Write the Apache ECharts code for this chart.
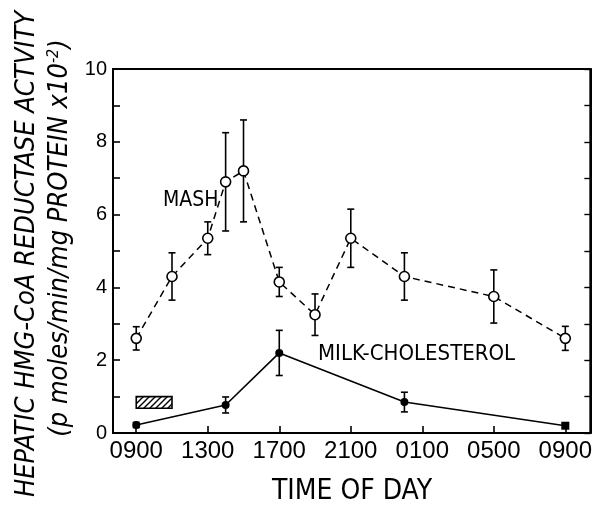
<!DOCTYPE html>
<html>
<head>
    <meta charset="utf-8">
    <title>HMG-CoA reductase</title>
    <script src="https://cdn.jsdelivr.net/npm/echarts@6/dist/echarts.min.js"></script>
    <style>
        html, body { margin: 0; padding: 0; background: #fff; }
    </style>
</head>
<body>
<div id="root" style="width: 595px; height: 505px;"></div>
<script type="text/javascript">
// hours after 0900
var tickHours = [0, 4, 8, 12, 16, 20, 24];
var tickLabels = ['0900', '1300', '1700', '2100', '0100', '0500', '0900'];

var mashHours = [0, 2, 4, 5, 6, 8, 10, 12, 15, 20, 24];
var mashMean = [2.6, 4.3, 5.35, 6.9, 7.2, 4.15, 3.25, 5.35, 4.3, 3.75, 2.6];
var mashErr = [0.32, 0.65, 0.45, 1.35, 1.4, 0.4, 0.57, 0.8, 0.65, 0.73, 0.33];

var milkHours = [0, 5, 8, 15, 24];
var milkMean = [0.22, 0.77, 2.2, 0.85, 0.2];
var milkErr = [0.07, 0.22, 0.62, 0.27, 0.06];

// hatched feeding bar: [startHour, endHour, low, high]
var feedBar = [0, 2, 0.68, 1.0];

var narrow = "'Liberation Sans Narrow', 'DejaVu Sans Condensed', 'Liberation Sans', sans-serif";
var plain = "'Liberation Sans', Arial, sans-serif";

var myChart = echarts.init(document.getElementById('root'));

function pairs(xs, ys) {
    return xs.map(function (x, i) { return [x, ys[i]]; });
}
function errData(xs, ys, es) {
    return xs.map(function (x, i) { return [x, ys[i] - es[i], ys[i] + es[i]]; });
}

function renderErr(params, api) {
    var lo = api.coord([api.value(0), api.value(1)]);
    var hi = api.coord([api.value(0), api.value(2)]);
    var w = 3.5;
    var st = { stroke: '#000', lineWidth: 1.6 };
    return {
        type: 'group',
        children: [
            { type: 'line', shape: { x1: lo[0], y1: lo[1], x2: hi[0], y2: hi[1] }, style: st },
            { type: 'line', shape: { x1: hi[0] - w, y1: hi[1], x2: hi[0] + w, y2: hi[1] }, style: st },
            { type: 'line', shape: { x1: lo[0] - w, y1: lo[1], x2: lo[0] + w, y2: lo[1] }, style: st }
        ]
    };
}

// diagonal hatch
var hatch = document.createElement('canvas');
hatch.width = 6;
hatch.height = 6;
var hc = hatch.getContext('2d');
hc.strokeStyle = '#000';
hc.lineWidth = 1.4;
hc.beginPath();
hc.moveTo(0, 6); hc.lineTo(6, 0);
hc.moveTo(-3, 3); hc.lineTo(3, -3);
hc.moveTo(3, 9); hc.lineTo(9, 3);
hc.stroke();

var milkPoints = pairs(milkHours, milkMean).map(function (p, i) {
    return { value: p, symbol: i === milkHours.length - 1 ? 'rect' : 'circle' };
});

option = {
    animation: false,
    grid: {
        left: 113, right: 2, top: 69, bottom: 72,
        show: true, borderColor: '#000', borderWidth: 2
    },
    xAxis: {
        type: 'value',
        min: -1.3,
        max: 25.4,
        splitLine: { show: false },
        axisLine: { onZero: false, lineStyle: { color: '#000', width: 2 } },
        axisTick: { inside: true, length: 7, lineStyle: { color: '#000', width: 1.6 }, customValues: tickHours },
        axisLabel: {
            customValues: tickHours,
            color: '#000', fontSize: 24, fontFamily: plain, margin: 6,
            formatter: function (v) { return tickLabels[tickHours.indexOf(v)]; }
        }
    },
    yAxis: [{
        type: 'value',
        min: 0, max: 10, interval: 1,
        splitLine: { show: false },
        axisLine: { show: true, onZero: false, lineStyle: { color: '#000', width: 2 } },
        axisTick: { inside: true, length: 7, lineStyle: { color: '#000', width: 1.6 } },
        axisLabel: {
            customValues: [0, 2, 4, 6, 8, 10],
            color: '#000', fontSize: 20, fontFamily: plain, margin: 6
        }
    }, {
        type: 'value',
        position: 'right',
        min: 0, max: 10, interval: 1,
        splitLine: { show: false },
        axisLine: { show: true, onZero: false, lineStyle: { color: '#000', width: 2 } },
        axisTick: { inside: true, length: 6, lineStyle: { color: '#000', width: 1.4 } },
        axisLabel: { show: false }
    }],
    series: [{
        name: 'feeding',
        type: 'custom',
        data: [feedBar],
        renderItem: function (params, api) {
            var a = api.coord([api.value(0), api.value(3)]);
            var b = api.coord([api.value(1), api.value(2)]);
            return {
                type: 'rect',
                shape: { x: a[0], y: a[1], width: b[0] - a[0], height: b[1] - a[1] },
                style: { fill: { image: hatch, repeat: 'repeat' }, stroke: '#000', lineWidth: 1.6 }
            };
        },
        z: 2
    }, {
        name: 'mashErr',
        type: 'custom',
        data: errData(mashHours, mashMean, mashErr),
        renderItem: renderErr,
        z: 2
    }, {
        name: 'milkErr',
        type: 'custom',
        data: errData(milkHours, milkMean, milkErr),
        renderItem: renderErr,
        z: 2
    }, {
        name: 'MASH',
        type: 'line',
        data: pairs(mashHours, mashMean),
        symbol: 'circle',
        symbolSize: 10,
        showAllSymbol: true,
        lineStyle: { color: '#000', width: 1.5, type: [7, 5] },
        itemStyle: { color: '#fff', borderColor: '#000', borderWidth: 1.6 },
        z: 5
    }, {
        name: 'MILK-CHOLESTEROL',
        type: 'line',
        data: milkPoints,
        symbolSize: 8,
        showAllSymbol: true,
        lineStyle: { color: '#000', width: 1.6 },
        itemStyle: { color: '#000' },
        z: 5
    }],
    graphic: [{
        type: 'text', left: 163, top: 190,
        style: { text: 'MASH', font: '21px ' + narrow, fill: '#000' }
    }, {
        type: 'text', left: 318, top: 343,
        style: { text: 'MILK-CHOLESTEROL', font: '22px ' + narrow, fill: '#000' }
    }, {
        type: 'text', x: 352, y: 492,
        style: { text: 'TIME OF DAY', font: '28px ' + narrow, fill: '#000', align: 'center', verticalAlign: 'middle' }
    }, {
        type: 'text', x: 27, y: 254, rotation: Math.PI / 2,
        style: { text: 'HEPATIC HMG-CoA REDUCTASE ACTVITY', font: 'italic 27px ' + narrow, fill: '#000', align: 'center', verticalAlign: 'middle' }
    }, {
        type: 'text', x: 60, y: 238, rotation: Math.PI / 2,
        style: {
            text: '(p moles/min/mg PROTEIN x10{sup|-2})',
            font: 'italic 27px ' + narrow, fill: '#000', align: 'center', verticalAlign: 'middle',
            rich: {
                sup: { fontSize: 16, fontStyle: 'italic', fontFamily: narrow, verticalAlign: 'top', padding: [0, 0, 12, 0] }
            }
        }
    }]
};
myChart.setOption(option, true);
</script>
</body>
</html>
